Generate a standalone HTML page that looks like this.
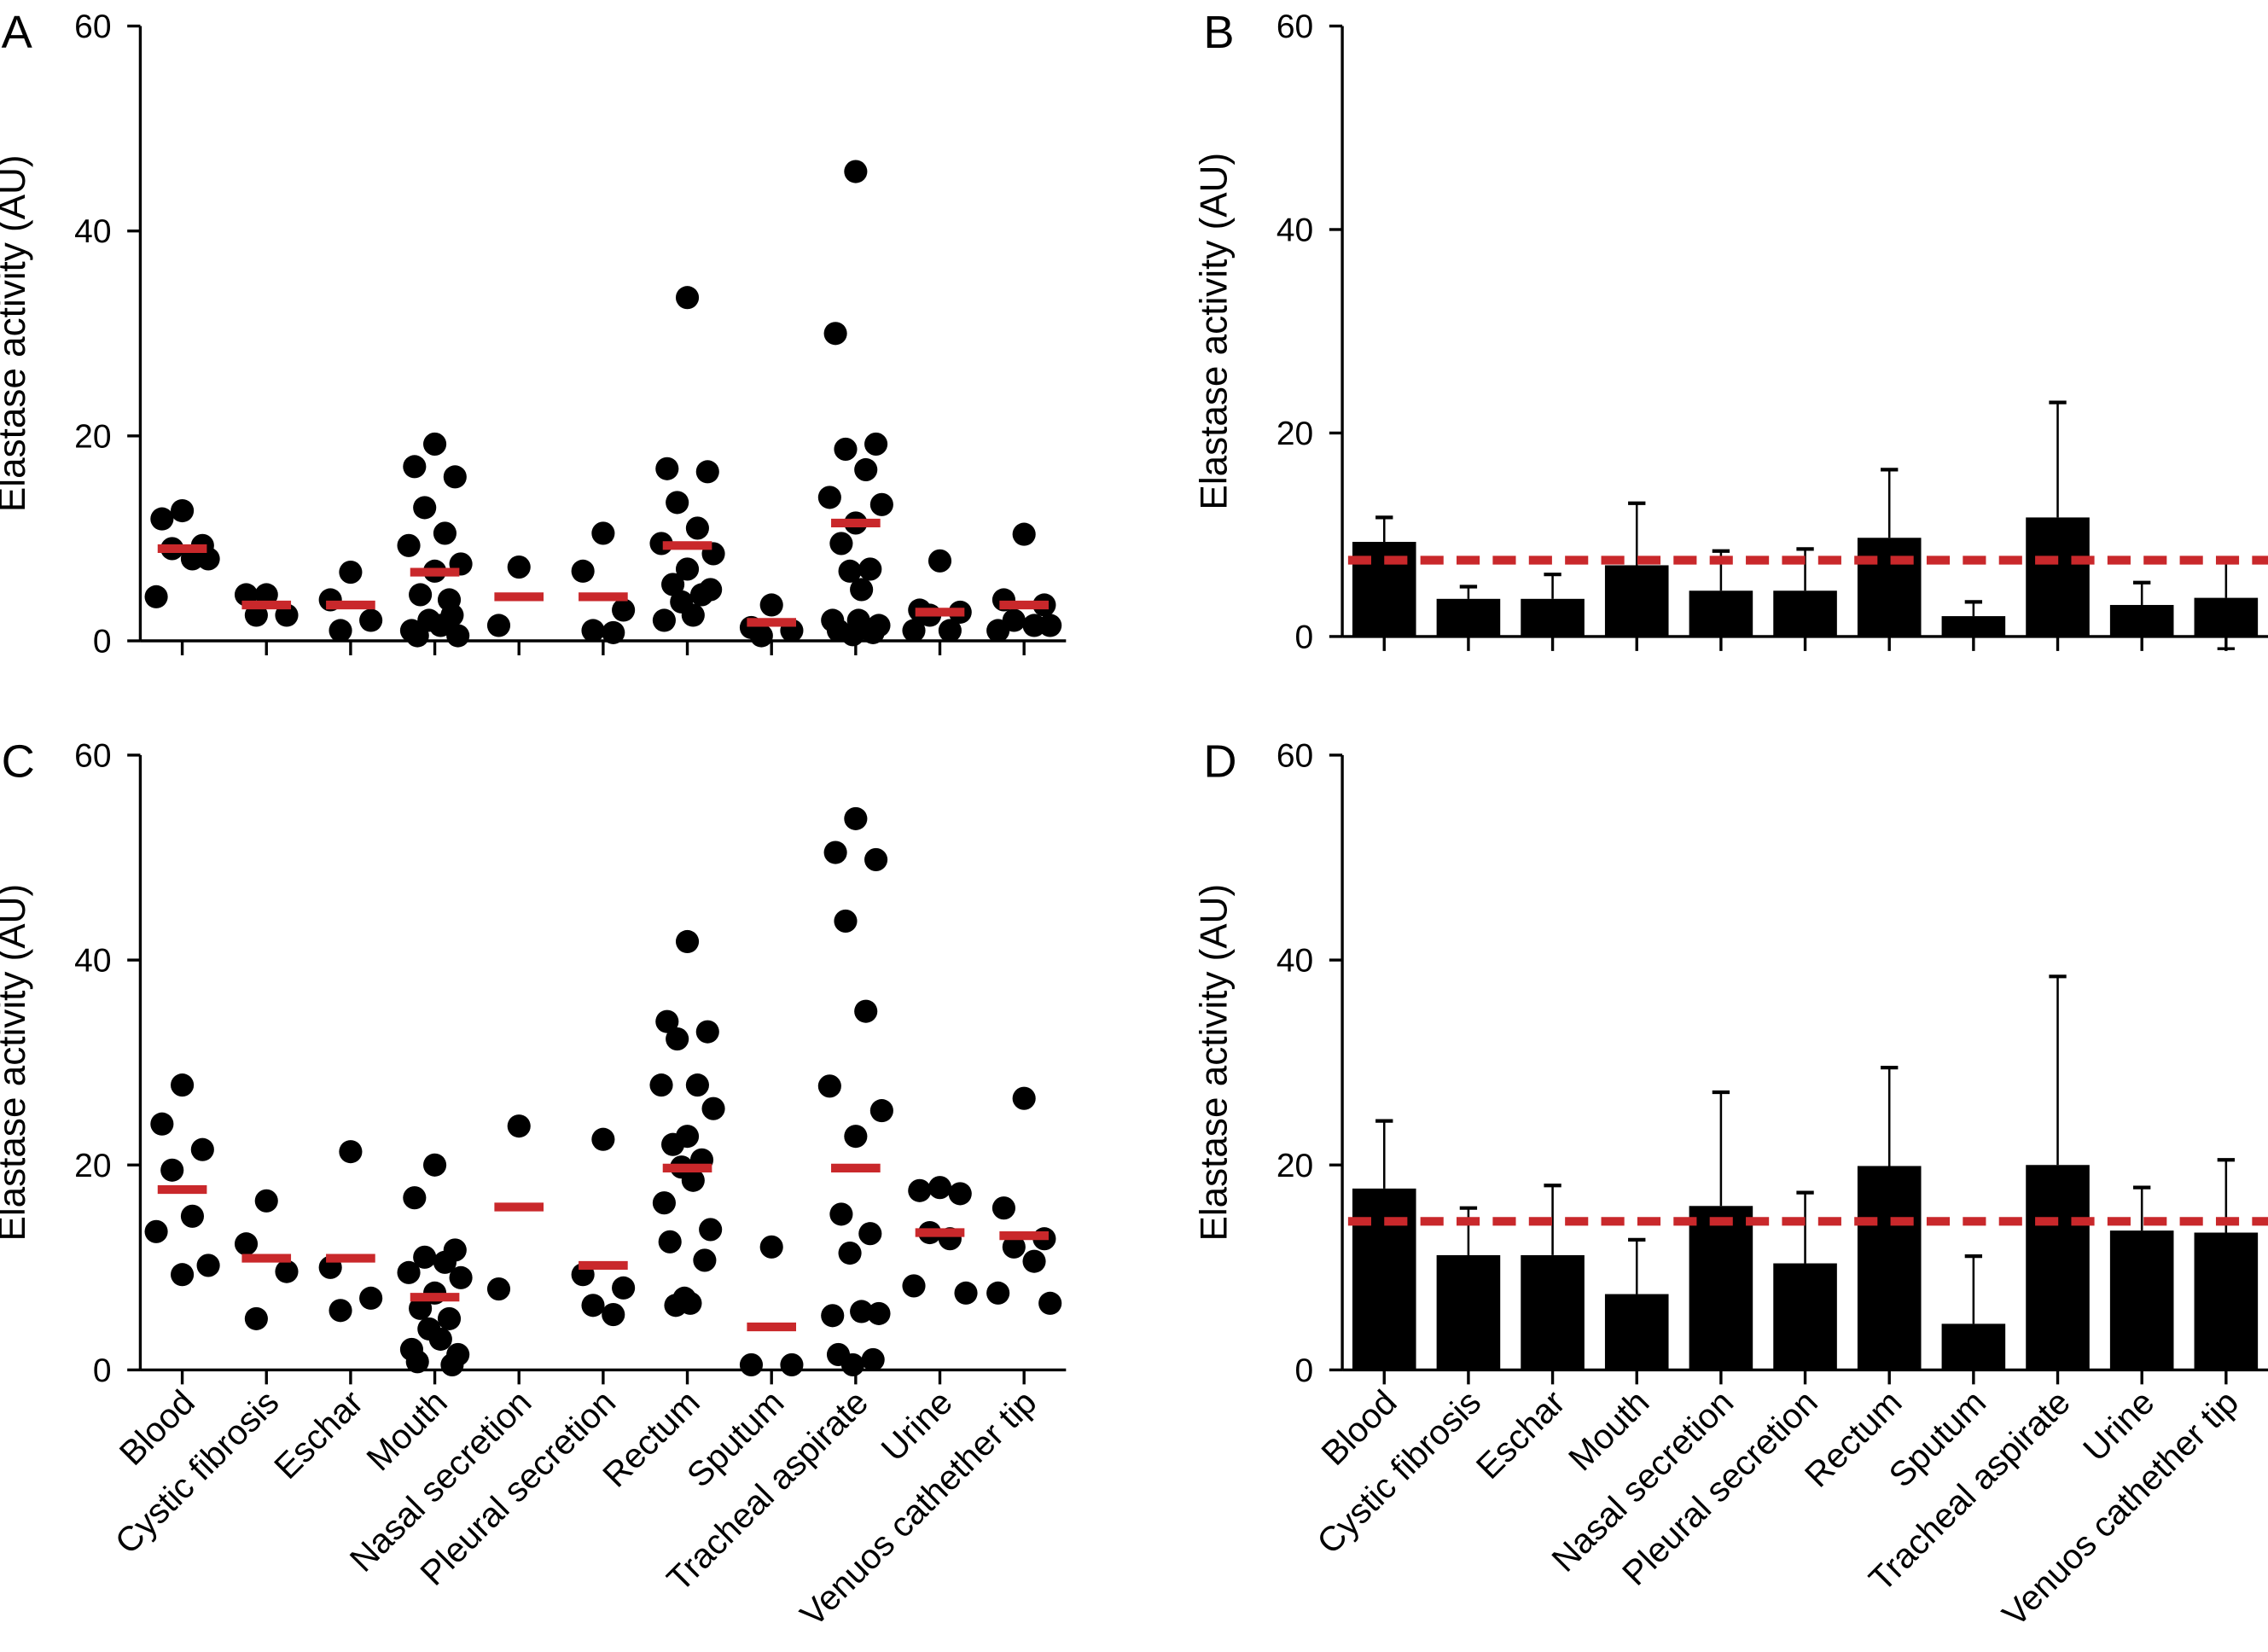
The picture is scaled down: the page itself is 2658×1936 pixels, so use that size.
<!DOCTYPE html>
<html><head><meta charset="utf-8"><style>html,body{margin:0;padding:0;background:#fff}svg{display:block}text{font-family:"Liberation Sans",Arial,sans-serif;fill:#000}</style></head>
<body>
<svg id="fig" width="2658" height="1936" viewBox="0 0 1568 1142" preserveAspectRatio="none" xmlns="http://www.w3.org/2000/svg"></svg>
<script>
const categories=["Blood","Cystic fibrosis","Eschar","Mouth","Nasal secretion","Pleural secretion","Rectum","Sputum","Tracheal aspirate","Urine","Venuos cathether tip"];
const yTicks=[0,20,40,60];
const dotsA=[[12.7,11.9,9.3,9.0,8.0,4.3,8.0],[4.5,4.5,2.5,2.5],[6.7,4,2,1],[19.2,17,16,13,10.5,9.3,7.5,6.8,4.5,4,2,1.5,1,0.5,0.5,2.5],[7.2,1.5],[10.5,6.8,3,1,0.8],[33.5,16.8,16.5,13.5,11,9.5,8.5,7,5.5,4.5,3.8,2.5,2,5],[3.5,1.3,1,0.5],[45.8,30,19.2,18.7,16.7,14,13.3,11.5,9.5,7,6.8,5,2,1.5,1,0.8,0.6,2],[7.8,3,2.8,2.5,1,1],[10.4,4,3.5,2,1.5,1,1.5]];
const meansA=[9,3.5,3.5,6.7,4.3,4.3,9.3,1.8,11.5,2.8,3.5];
const barsB=[9.3,3.7,3.7,7,4.5,4.5,9.7,2,11.7,3.1,3.8];
const errB=[11.7,4.9,6.1,13.1,8.4,8.6,16.4,3.4,23,5.3,7.3];
const refB=7.5;
const dotsC=[[27.8,24,21.5,19.5,15,13.5,10.2,9.3],[16.5,12.3,9.6,5],[21.3,10,7,5.8],[20,16.8,11.7,11,10.5,9.5,9,7.5,6,5,4,3,2,1.5,0.8,0.5],[23.8,7.9],[22.5,9.3,8,6.3,5.4],[41.8,34,33,32.3,27.8,27.8,25.5,22.8,22,20.5,19.8,18.5,16.3,13.7,12.5,10.7,7,6.5,6.3],[12,0.5,0.5],[53.8,50.5,49.8,43.8,35,27.7,25.3,22.8,15.2,13.3,11.4,5.7,5.3,5.5,1.5,1,0.5],[17.8,17.5,17.2,13.4,12.8,8.2,7.5],[26.5,15.8,12.8,12,10.6,7.5,6.5]];
const meansC=[17.6,10.9,10.9,7.1,15.9,10.2,19.7,4.2,19.7,13.4,13.1];
const barsD=[17.7,11.2,11.2,7.4,16,10.4,19.9,4.5,20,13.6,13.4];
const errD=[24.3,15.8,18,12.7,27.1,17.3,29.5,11.1,38.4,17.8,20.5];
const refD=14.5;

const NS="http://www.w3.org/2000/svg";
const svg=document.getElementById('fig');
const RED="#c9282b";
function mk(tag,attrs,parent,txt){const e=document.createElementNS(NS,tag);for(const k in attrs)e.setAttribute(k,attrs[k]);if(txt!=null)e.textContent=txt;(parent||svg).appendChild(e);return e;}
const jit=[0,-14,14,-7,7,-18,18,0,-10,10,-4,4,-16,16,-12,12,-2,2,-8,8];

function panel(letter,ax,ay0,ay60,xEnd,showLabels){
  const g=mk('g',{});
  
  
  const y=v=>ay0-(ay0-ay60)*v/60;
  const x=i=>ax+29+i*58.2;
  const ya=mk('line',{x1:ax,y1:ay60,x2:ax,y2:ay0,stroke:'#000','stroke-width':2},g);
  
  const xa=mk('line',{x1:ax,y1:ay0,x2:xEnd,y2:ay0,stroke:'#000','stroke-width':2},g);
  
  yTicks.forEach(t=>{
    mk('line',{x1:ax-9,y1:y(t),x2:ax,y2:y(t),stroke:'#000','stroke-width':2},g);
    const tl=mk('text',{x:ax-20,y:y(t)+8,'text-anchor':'end','font-size':23},g,String(t));
    
  });
  categories.forEach((c,i)=>{
    mk('line',{x1:x(i),y1:ay0,x2:x(i),y2:ay0+10,stroke:'#000','stroke-width':2},g);
    if(showLabels){
      const lt=mk('text',{x:x(i)+10,y:ay0+24,'text-anchor':'end','font-size':24,transform:`rotate(-45 ${x(i)+10} ${ay0+24})`},g,c);
      
    }
  });
  const cy=(ay0+ay60)/2;
  const yt=mk('text',{x:ax-80,y:cy,'text-anchor':'middle','font-size':26,transform:`rotate(-90 ${ax-80} ${cy})`},g,'Elastase activity (AU)');
  
  const pl=mk('text',{x:ax-96,y:ay60+15,'font-size':32},g,letter);
  
  return {g,x,y};
}
function dotPanel(p,dots,means){
  dots.forEach((arr,i)=>arr.forEach((v,j)=>{
    const c=mk('circle',{cx:p.x(i)+jit[j%jit.length],cy:p.y(v),r:8,fill:'#000'},p.g);
    
  }));
  means.forEach((m,i)=>{
    const l=mk('line',{x1:p.x(i)-17,x2:p.x(i)+17,y1:p.y(m),y2:p.y(m),stroke:RED,'stroke-width':6},p.g);
    
  });
}
function barPanel(p,bars,errs,ref,x0,x1,low){
  bars.forEach((b,i)=>{
    const e=mk('line',{x1:p.x(i),x2:p.x(i),y1:p.y(b),y2:p.y(errs[i]),stroke:'#000','stroke-width':1.5},p.g);
    
    mk('line',{x1:p.x(i)-6,x2:p.x(i)+6,y1:p.y(errs[i]),y2:p.y(errs[i]),stroke:'#000','stroke-width':2.5},p.g);
    const r=mk('rect',{x:p.x(i)-22,y:p.y(b),width:44,height:p.y(0)-p.y(b),fill:'#000'},p.g);
    
    
  });
  if(low!=null){const i=bars.length-1;mk('line',{x1:p.x(i),x2:p.x(i),y1:p.y(0),y2:p.y(low),stroke:'#000','stroke-width':1.5},p.g);mk('line',{x1:p.x(i)-6,x2:p.x(i)+6,y1:p.y(low),y2:p.y(low),stroke:'#000','stroke-width':2},p.g);}
  const d=mk('line',{x1:x0,x2:x1,y1:p.y(ref),y2:p.y(ref),stroke:RED,'stroke-width':6,'stroke-dasharray':'16 9'},p.g);
  
}
const A=panel('A',97,443,18,737,false);dotPanel(A,dotsA,meansA);
const B=panel('B',928,440,18,1568,false);barPanel(B,barsB,errB,refB,932,1568,-1.2);
const C=panel('C',97,947,522,737,true);dotPanel(C,dotsC,meansC);
const D=panel('D',928,947,522,1568,true);barPanel(D,barsD,errD,refD,932,1568,null);
</script>
</body></html>
